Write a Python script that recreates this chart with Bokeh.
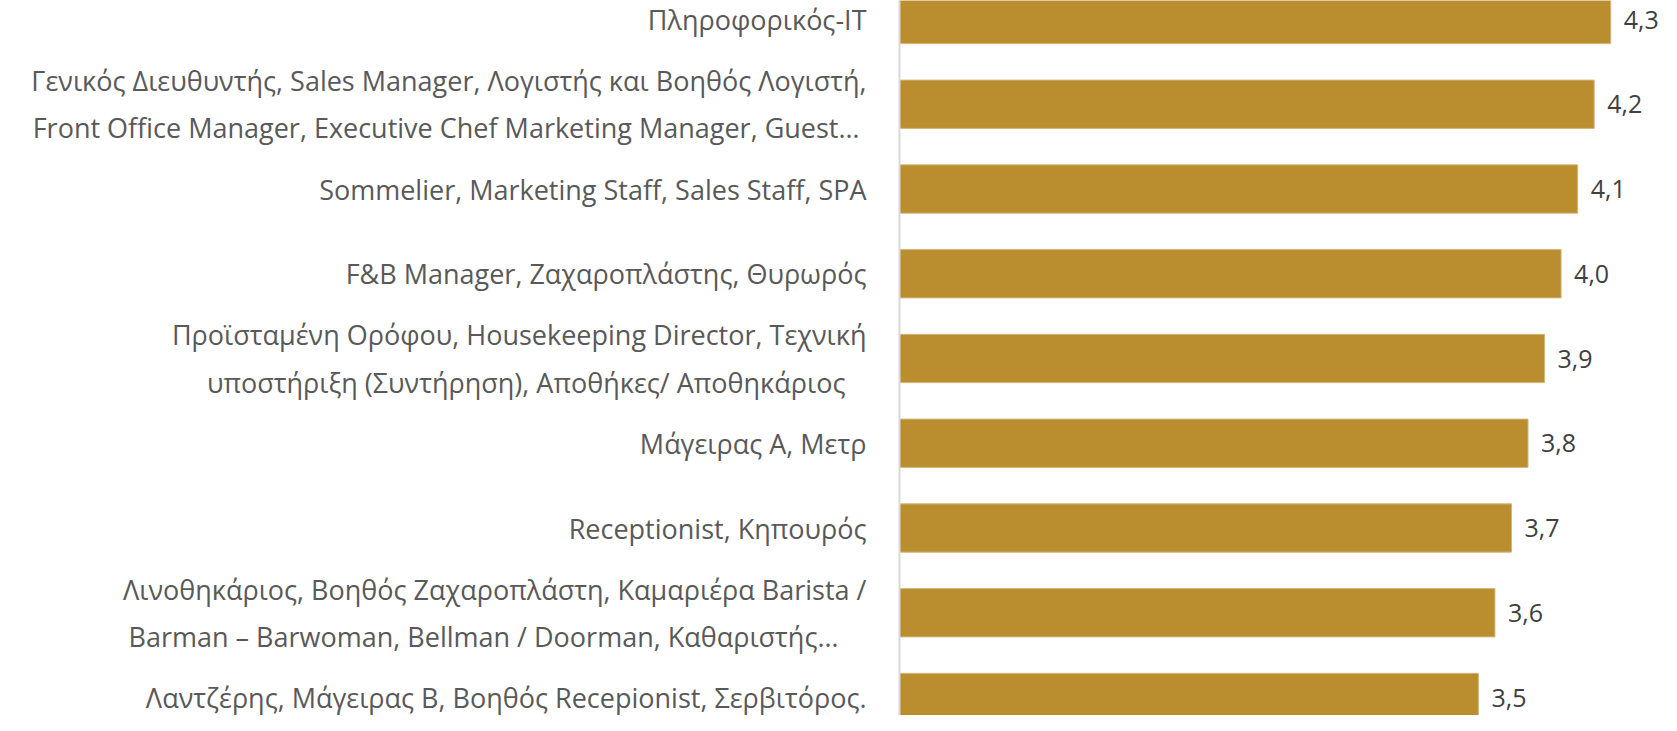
from bokeh.plotting import figure
from bokeh.models import Range1d, Span, ColumnDataSource
from bokeh.core.properties import value
from bokeh.embed import file_html
from bokeh.resources import INLINE

NB = "\u00a0"
categories = [
    "Πληροφορικός-IT",
    "Γενικός Διευθυντής, Sales Manager, Λογιστής και Βοηθός Λογιστή,\nFront Office Manager, Executive Chef Marketing Manager, Guest…" + NB,
    "Sommelier, Marketing Staff, Sales Staff, SPA",
    "F&B Manager, Ζαχαροπλάστης, Θυρωρός",
    "Προϊσταμένη Ορόφου, Housekeeping Director, Τεχνική\nυποστήριξη (Συντήρηση), Αποθήκες/ Αποθηκάριος" + NB * 3,
    "Μάγειρας Α, Μετρ",
    "Receptionist, Κηπουρός",
    "Λινοθηκάριος, Βοηθός Ζαχαροπλάστη, Καμαριέρα Barista /\nBarman – Barwoman, Bellman / Doorman, Καθαριστής…" + NB * 4,
    "Λαντζέρης, Μάγειρας Β, Βοηθός Recepionist, Σερβιτόρος.",
]
values = [4.3, 4.2, 4.1, 4.0, 3.9, 3.8, 3.7, 3.6, 3.5]
value_labels = ["4,3", "4,2", "4,1", "4,0", "3,9", "3,8", "3,7", "3,6", "3,5"]

W, H = 1661, 715
px_per_unit = 165.4
x0_px = 899.0
xmin = -x0_px / px_per_unit
xmax = xmin + W / px_per_unit

pitch = 84.75
top_px = 19.0
ytop = -top_px / pitch
ybot = ytop + H / pitch
bar_h = 48.3 / pitch

idx = list(range(len(categories)))
src = ColumnDataSource(dict(y=idx, v=values, cat=categories, lab=value_labels))

p = figure(width=W, height=H, x_range=Range1d(xmin, xmax), y_range=Range1d(ybot, ytop),
           output_backend="svg", toolbar_location=None, min_border=0,
           x_axis_location=None, y_axis_location=None)
p.grid.visible = False
p.outline_line_color = None

p.hbar(y="y", left=0, right="v", height=bar_h, source=src,
       fill_color="#BA8D2F", line_color="#D3B77C", line_width=1)

p.add_layout(Span(location=0, dimension="height", line_color="#D9D9D9", line_width=2))

p.text(x=0, y="y", text="cat", source=src, x_offset=-33,
       text_align="right", text_baseline="middle",
       text_font=value("Open Sans"), text_font_size="27px",
       text_color="#595959", text_line_height=1.28)

p.text(x="v", y="y", text="lab", source=src, x_offset=13,
       text_align="left", text_baseline="middle",
       text_font=value("Open Sans"), text_font_size="25px",
       text_color="#404040")

open("out.html", "w").write(file_html(p, INLINE))
